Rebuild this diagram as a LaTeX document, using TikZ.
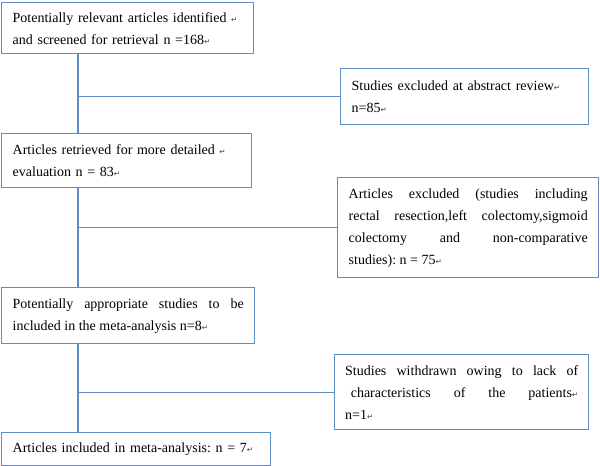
\documentclass[tikz,border=0pt]{standalone}
\usepackage{fontspec}
\setmainfont{Liberation Serif}
\newfontfamily\symfont{DejaVu Sans}
\usetikzlibrary{positioning,calc}
\definecolor{linkblue}{RGB}{95,140,196}
\frenchspacing
\newcommand{\retmark}{{\symfont\fontsize{7.5}{7.5}\selectfont\textcolor{darkgray}{↵}}}
\tikzset{
    stage/.style={rectangle, draw=linkblue, line width=1.4pt, anchor=north west, inner xsep=11pt, inner ysep=4pt, align=left, font=\fontsize{14}{22}\selectfont},
    excl/.style={stage, align=justify},
    link/.style={draw=linkblue, line width=1.1pt}
}
\begin{document}
\begin{tikzpicture}[x=1pt, y=-1pt]
    \useasboundingbox (0,0) rectangle (600,466);
    \node [stage, text width=230pt, minimum height=51pt] (found) at (1,2) {\mbox{Potentially relevant articles identified \retmark}\\ \mbox{and screened for retrieval n =168\retmark}};
    \node [stage, text width=226pt, minimum height=56pt] (abstract) at (340,68) {\mbox{Studies excluded at abstract review\retmark}\\ n=85\retmark};
    \node [stage, text width=228pt, minimum height=54pt] (retrieved) at (1,133) {\mbox{Articles retrieved for more detailed \retmark}\\ \mbox{evaluation n = 83\retmark}};
    \node [excl, text width=239pt, minimum height=100pt] (excluded) at (337,177) {Articles excluded (studies including\linebreak rectal resection,left colectomy,sigmoid\linebreak colectomy and non-comparative\linebreak studies): n = 75\retmark};
    \node [excl, text width=231pt, minimum height=56pt] (appropriate) at (1,287) {Potentially appropriate studies to be\linebreak included in the meta-analysis n=8\retmark};
    \node [excl, text width=233pt, inner xsep=10.5pt, minimum height=75pt] (withdrawn) at (334,354) {Studies withdrawn owing to lack of\linebreak\hspace*{0.4em}characteristics of the patients\retmark\linebreak n=1\retmark};
    \node [stage, text width=247pt, minimum height=33pt] (included) at (1,432) {\mbox{Articles included in meta-analysis: n = 7\retmark}};

    % trunk and side branches
    \coordinate (trunk) at (78,0);
    \path [link] (found.south -| trunk) -- (retrieved.north -| trunk);
    \path [link] (retrieved.south -| trunk) -- (appropriate.north -| trunk);
    \path [link] (appropriate.south -| trunk) -- (included.north -| trunk);
    \path [link] (trunk |- abstract.west) -- (abstract.west);
    \path [link] (trunk |- excluded.west) -- (excluded.west);
    \path [link] (trunk |- withdrawn.west) -- (withdrawn.west);
\end{tikzpicture}
\end{document}
